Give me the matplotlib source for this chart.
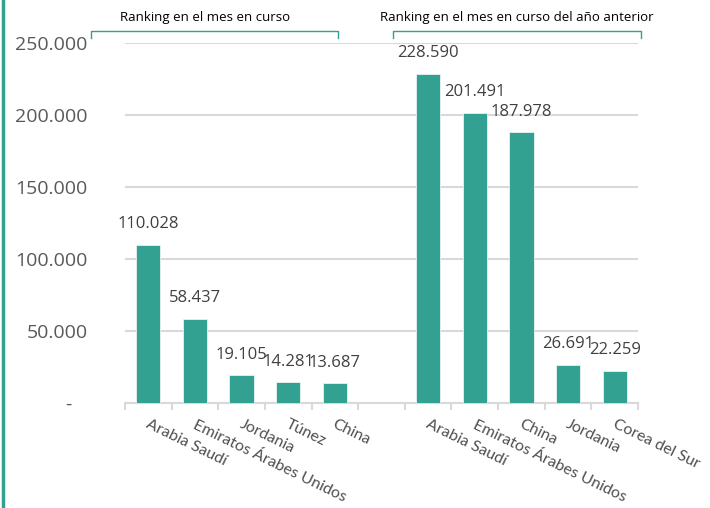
import numpy as np
import matplotlib.pyplot as plt
from matplotlib.lines import Line2D

plt.rcParams['font.family'] = ['Open Sans', 'DejaVu Sans']

# Data
countries_cur = ["Arabia Saudí", "Emiratos Árabes Unidos", "Jordania", "Túnez", "China"]
values_cur = [110028, 58437, 19105, 14281, 13687]
countries_prev = ["Arabia Saudí", "Emiratos Árabes Unidos", "China", "Jordania", "Corea del Sur"]
values_prev = [228590, 201491, 187978, 26691, 22259]
group_titles = ["Ranking en el mes en curso", "Ranking en el mes en curso del año anterior"]
yticks = [0, 50000, 100000, 150000, 200000, 250000]

teal = "#33A191"
grey_txt = "#595959"
grid_col = "#D9D9D9"


def fmt(v):
    return f"{v:,}".replace(",", ".")


labels = countries_cur + [""] + countries_prev
values = values_cur + [np.nan] + values_prev
x = np.arange(len(labels))

fig = plt.figure(figsize=(7.1, 5.08), dpi=100)
ax = fig.add_axes([125 / 710, 1 - 403 / 508, 513 / 710, 360 / 508])

bars = ax.bar(x, values, width=0.52, color=teal, edgecolor="#E8F4F2", linewidth=0.6, zorder=3)

for xi, v in zip(x, values):
    if np.isnan(v):
        continue
    ax.annotate(fmt(v), (xi, v), xytext=(0, 9), textcoords="offset points",
                ha="center", va="bottom", fontsize=12, color="#404040")

ax.set_xlim(-0.5, len(labels) - 0.5)
ax.set_ylim(0, 250000)
ax.set_yticks(yticks)
ax.set_yticklabels(["-   "] + [fmt(t) for t in yticks[1:]])
ax.tick_params(axis="y", length=0, pad=27, labelsize=14, labelcolor=grey_txt)
ax.yaxis.grid(True, color=grid_col, linewidth=1.5, zorder=0)

# category boundary ticks
ax.set_xticks(np.arange(-0.5, len(labels) + 0.5, 1.0), minor=True)
ax.set_xticks(x)
ax.set_xticklabels([])
ax.tick_params(axis="x", which="major", length=0)
ax.tick_params(axis="x", which="minor", length=5, width=1.5, color=grid_col)

for xi, lab in zip(x, labels):
    if lab:
        ax.text(xi - 0.03, -0.058, lab, transform=ax.get_xaxis_transform(),
                rotation=-26, rotation_mode="anchor", ha="left", va="center",
                fontsize=11.5, color="#505050", family=["Lato", "DejaVu Sans"])

for s in ["top", "right", "left"]:
    ax.spines[s].set_visible(False)
ax.spines["bottom"].set_color(grid_col)
ax.spines["bottom"].set_linewidth(1.5)

# group brackets
W, H = 710, 508
brackets = [(91, 338, 205), (393, 641, 517)]
for (x0, x1, xc), title in zip(brackets, group_titles):
    y0, y1 = 1 - 31 / H, 1 - 38 / H
    fig.add_artist(Line2D([x0 / W, x0 / W, x1 / W, x1 / W], [y1, y0, y0, y1],
                          color=teal, linewidth=1.0))
    fig.text(xc / W, 1 - 18 / H, title, ha="center", va="center", fontsize=9.5, color="black")

# left border line
fig.add_artist(Line2D([3 / W, 3 / W], [0, 1], color=teal, linewidth=2.5))

fig.savefig("out.png", dpi=100)
